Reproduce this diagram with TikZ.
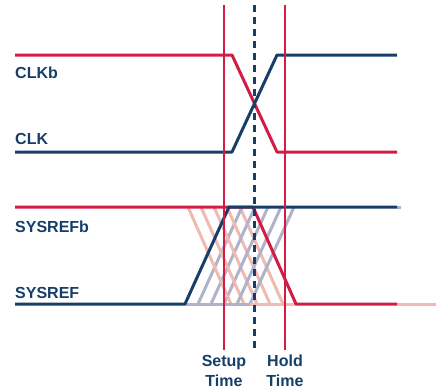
\documentclass[tikz,border=0pt]{standalone}
\usepackage{fontspec}
\setmainfont{Liberation Sans}
\usepackage{xcolor}

\begin{document}
\begin{tikzpicture}[x=1pt,y=-1pt,line join=round]
    % Define signal colors
    \definecolor{sigred}{RGB}{210, 28, 68}
    \definecolor{signavy}{RGB}{22, 62, 104}
    \definecolor{palered}{RGB}{240, 186, 176}
    \definecolor{paleblue}{RGB}{176, 178, 202}
    \tikzset{
        label/.style={font=\fontsize{16}{20}\selectfont\bfseries, text=signavy, inner sep=0pt},
        wave/.style={line width=3pt},
        marker/.style={sigred, line width=2pt}
    }
    \useasboundingbox (0,0) rectangle (436,389);

    % Signal names
    \node[label, anchor=base west] (clkb) at (15,78) {CLKb};
    \node[label, anchor=base west] (clk) at (15,144) {CLK};
    \node[label, anchor=base west] (sysrefb) at (15,232) {SYSREFb};
    \node[label, anchor=base west] (sysref) at (15,298) {SYSREF};

    % Clock pair
    \draw[wave, sigred] (15,55) -- (232,55) -- (277,152) -- (397,152);
    \draw[wave, signavy] (15,152) -- (232,152) -- (277,55) -- (397,55);

    % Possible SYSREF edges (pale hatching)
    \foreach \dx in {13, 26, 39, 52, 65} {
        \draw[wave, palered] (253-\dx,207) -- (296-\dx,304);
        \draw[wave, paleblue] (185+\dx,304) -- (229+\dx,207);
    }
    \draw[wave, paleblue] (185,304) -- (250,304);
    \draw[wave, palered] (250,304) -- (296,304);
    \draw[wave, palered] (397,304) -- (436,304);
    \draw[wave, paleblue] (397,207) -- (401,207);

    % SYSREF pair
    \draw[wave, sigred] (15,207) -- (253,207) -- (296,304) -- (397,304);
    \draw[wave, signavy] (15,304) -- (185,304) -- (229,207) -- (397,207);

    % Setup and hold window
    \draw[marker] (224,5) -- (224,350);
    \draw[marker] (285,5) -- (285,350);
    \draw[signavy, line width=3pt, dash pattern=on 7pt off 5pt] (254,5) -- (254,348);

    \node[label, anchor=north, align=center] (setup) at (224,355) {Setup\\Time};
    \node[label, anchor=north, align=center] (hold) at (285,355) {Hold\\Time};

\end{tikzpicture}
\end{document}
